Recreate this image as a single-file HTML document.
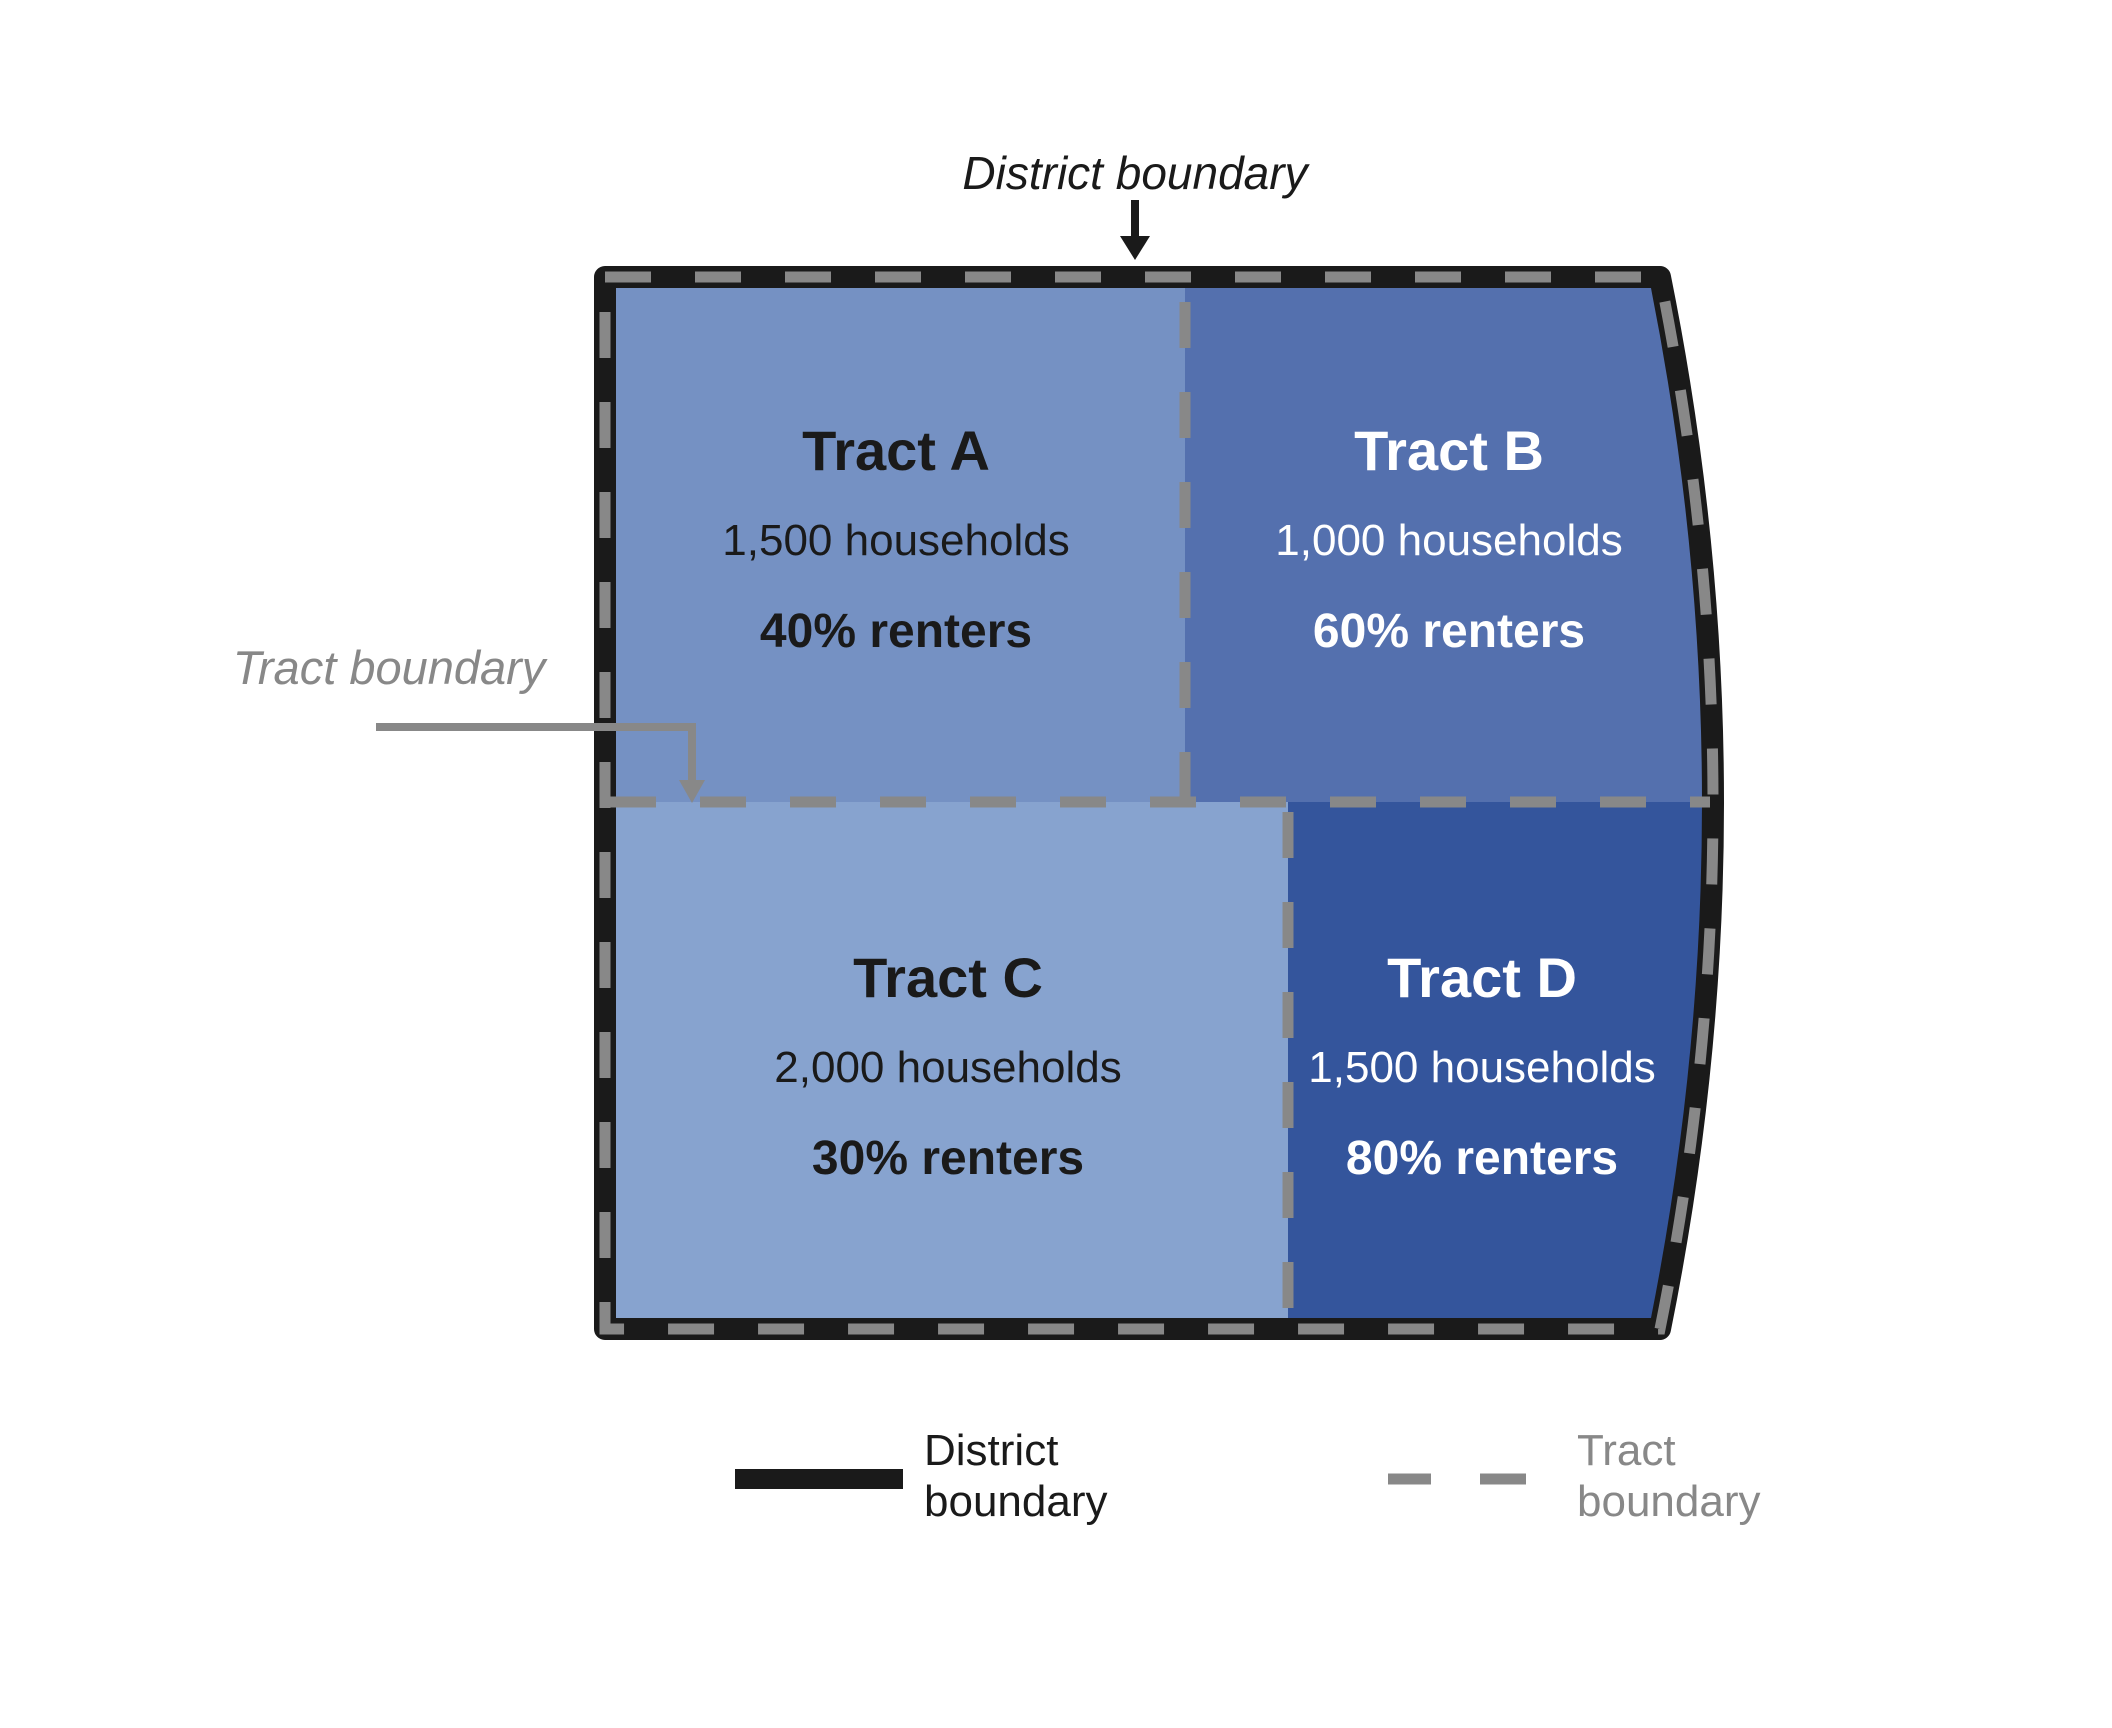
<!DOCTYPE html>
<html><head><meta charset="utf-8"><style>
html,body{margin:0;padding:0;background:#fff;}
svg{display:block;}
text{font-family:"Liberation Sans",Arial,sans-serif;}
</style></head><body>
<svg width="2112" height="1728" viewBox="0 0 2112 1728" xmlns="http://www.w3.org/2000/svg">
<defs>
<clipPath id="shape"><path d="M605,277 L1660,277 Q1766,803 1660,1329 L605,1329 Z"/></clipPath>
</defs>
<g clip-path="url(#shape)">
<rect x="600" y="270" width="585" height="533" fill="#7591C3"/>
<rect x="1185" y="270" width="600" height="533" fill="#5470AE"/>
<rect x="600" y="802" width="689" height="540" fill="#87A3CF"/>
<rect x="1288" y="802" width="500" height="540" fill="#34559C"/>
</g>
<path d="M605,277 L1660,277 Q1766,803 1660,1329 L605,1329 Z" fill="none" stroke="#1a1a1a" stroke-width="22" stroke-linejoin="round"/>
<g fill="none" stroke="#888" stroke-width="11">
<path d="M605,277 L1660,277 Q1766,803 1660,1329 L605,1329 Z" stroke-dasharray="46 44"/>
<path d="M1185,282 L1185,802" stroke-dasharray="46 44" stroke-dashoffset="-20"/>
<path d="M610,802 L1710,802" stroke-dasharray="46 44"/>
<path d="M1288,802 L1288,1329" stroke-dasharray="46 44" stroke-dashoffset="-10"/>
</g>
<g text-anchor="middle">
<text x="896" y="470" font-size="56" font-weight="bold" fill="#1a1a1a">Tract A</text>
<text x="896" y="555" font-size="44" fill="#1a1a1a">1,500 households</text>
<text x="896" y="647" font-size="48" font-weight="bold" fill="#1a1a1a">40% renters</text>
<text x="1449" y="470" font-size="56" font-weight="bold" fill="#fff">Tract B</text>
<text x="1449" y="555" font-size="44" fill="#fff">1,000 households</text>
<text x="1449" y="647" font-size="48" font-weight="bold" fill="#fff">60% renters</text>
<text x="948" y="997" font-size="56" font-weight="bold" fill="#1a1a1a">Tract C</text>
<text x="948" y="1082" font-size="44" fill="#1a1a1a">2,000 households</text>
<text x="948" y="1174" font-size="48" font-weight="bold" fill="#1a1a1a">30% renters</text>
<text x="1482" y="997" font-size="56" font-weight="bold" fill="#fff">Tract D</text>
<text x="1482" y="1082" font-size="44" fill="#fff">1,500 households</text>
<text x="1482" y="1174" font-size="48" font-weight="bold" fill="#fff">80% renters</text>
</g>
<text x="1135" y="189" font-size="46" font-style="italic" fill="#1a1a1a" text-anchor="middle">District boundary</text>
<line x1="1135" y1="200" x2="1135" y2="240" stroke="#1a1a1a" stroke-width="8"/>
<polygon points="1120,236 1150,236 1135,260" fill="#1a1a1a"/>
<text x="389" y="684" font-size="47" font-style="italic" fill="#888" text-anchor="middle">Tract boundary</text>
<polyline points="376,727 692,727 692,782" fill="none" stroke="#888" stroke-width="8"/>
<polygon points="679,780 705,780 692,803" fill="#888"/>
<line x1="735" y1="1479" x2="903" y2="1479" stroke="#1a1a1a" stroke-width="20"/>
<text x="924" y="1465" font-size="44" fill="#1a1a1a">District</text>
<text x="924" y="1516" font-size="44" fill="#1a1a1a">boundary</text>
<line x1="1388" y1="1479" x2="1431" y2="1479" stroke="#888" stroke-width="11"/>
<line x1="1480" y1="1479" x2="1526" y2="1479" stroke="#888" stroke-width="11"/>
<text x="1577" y="1465" font-size="44" fill="#888">Tract</text>
<text x="1577" y="1516" font-size="44" fill="#888">boundary</text>
</svg>
</body></html>
